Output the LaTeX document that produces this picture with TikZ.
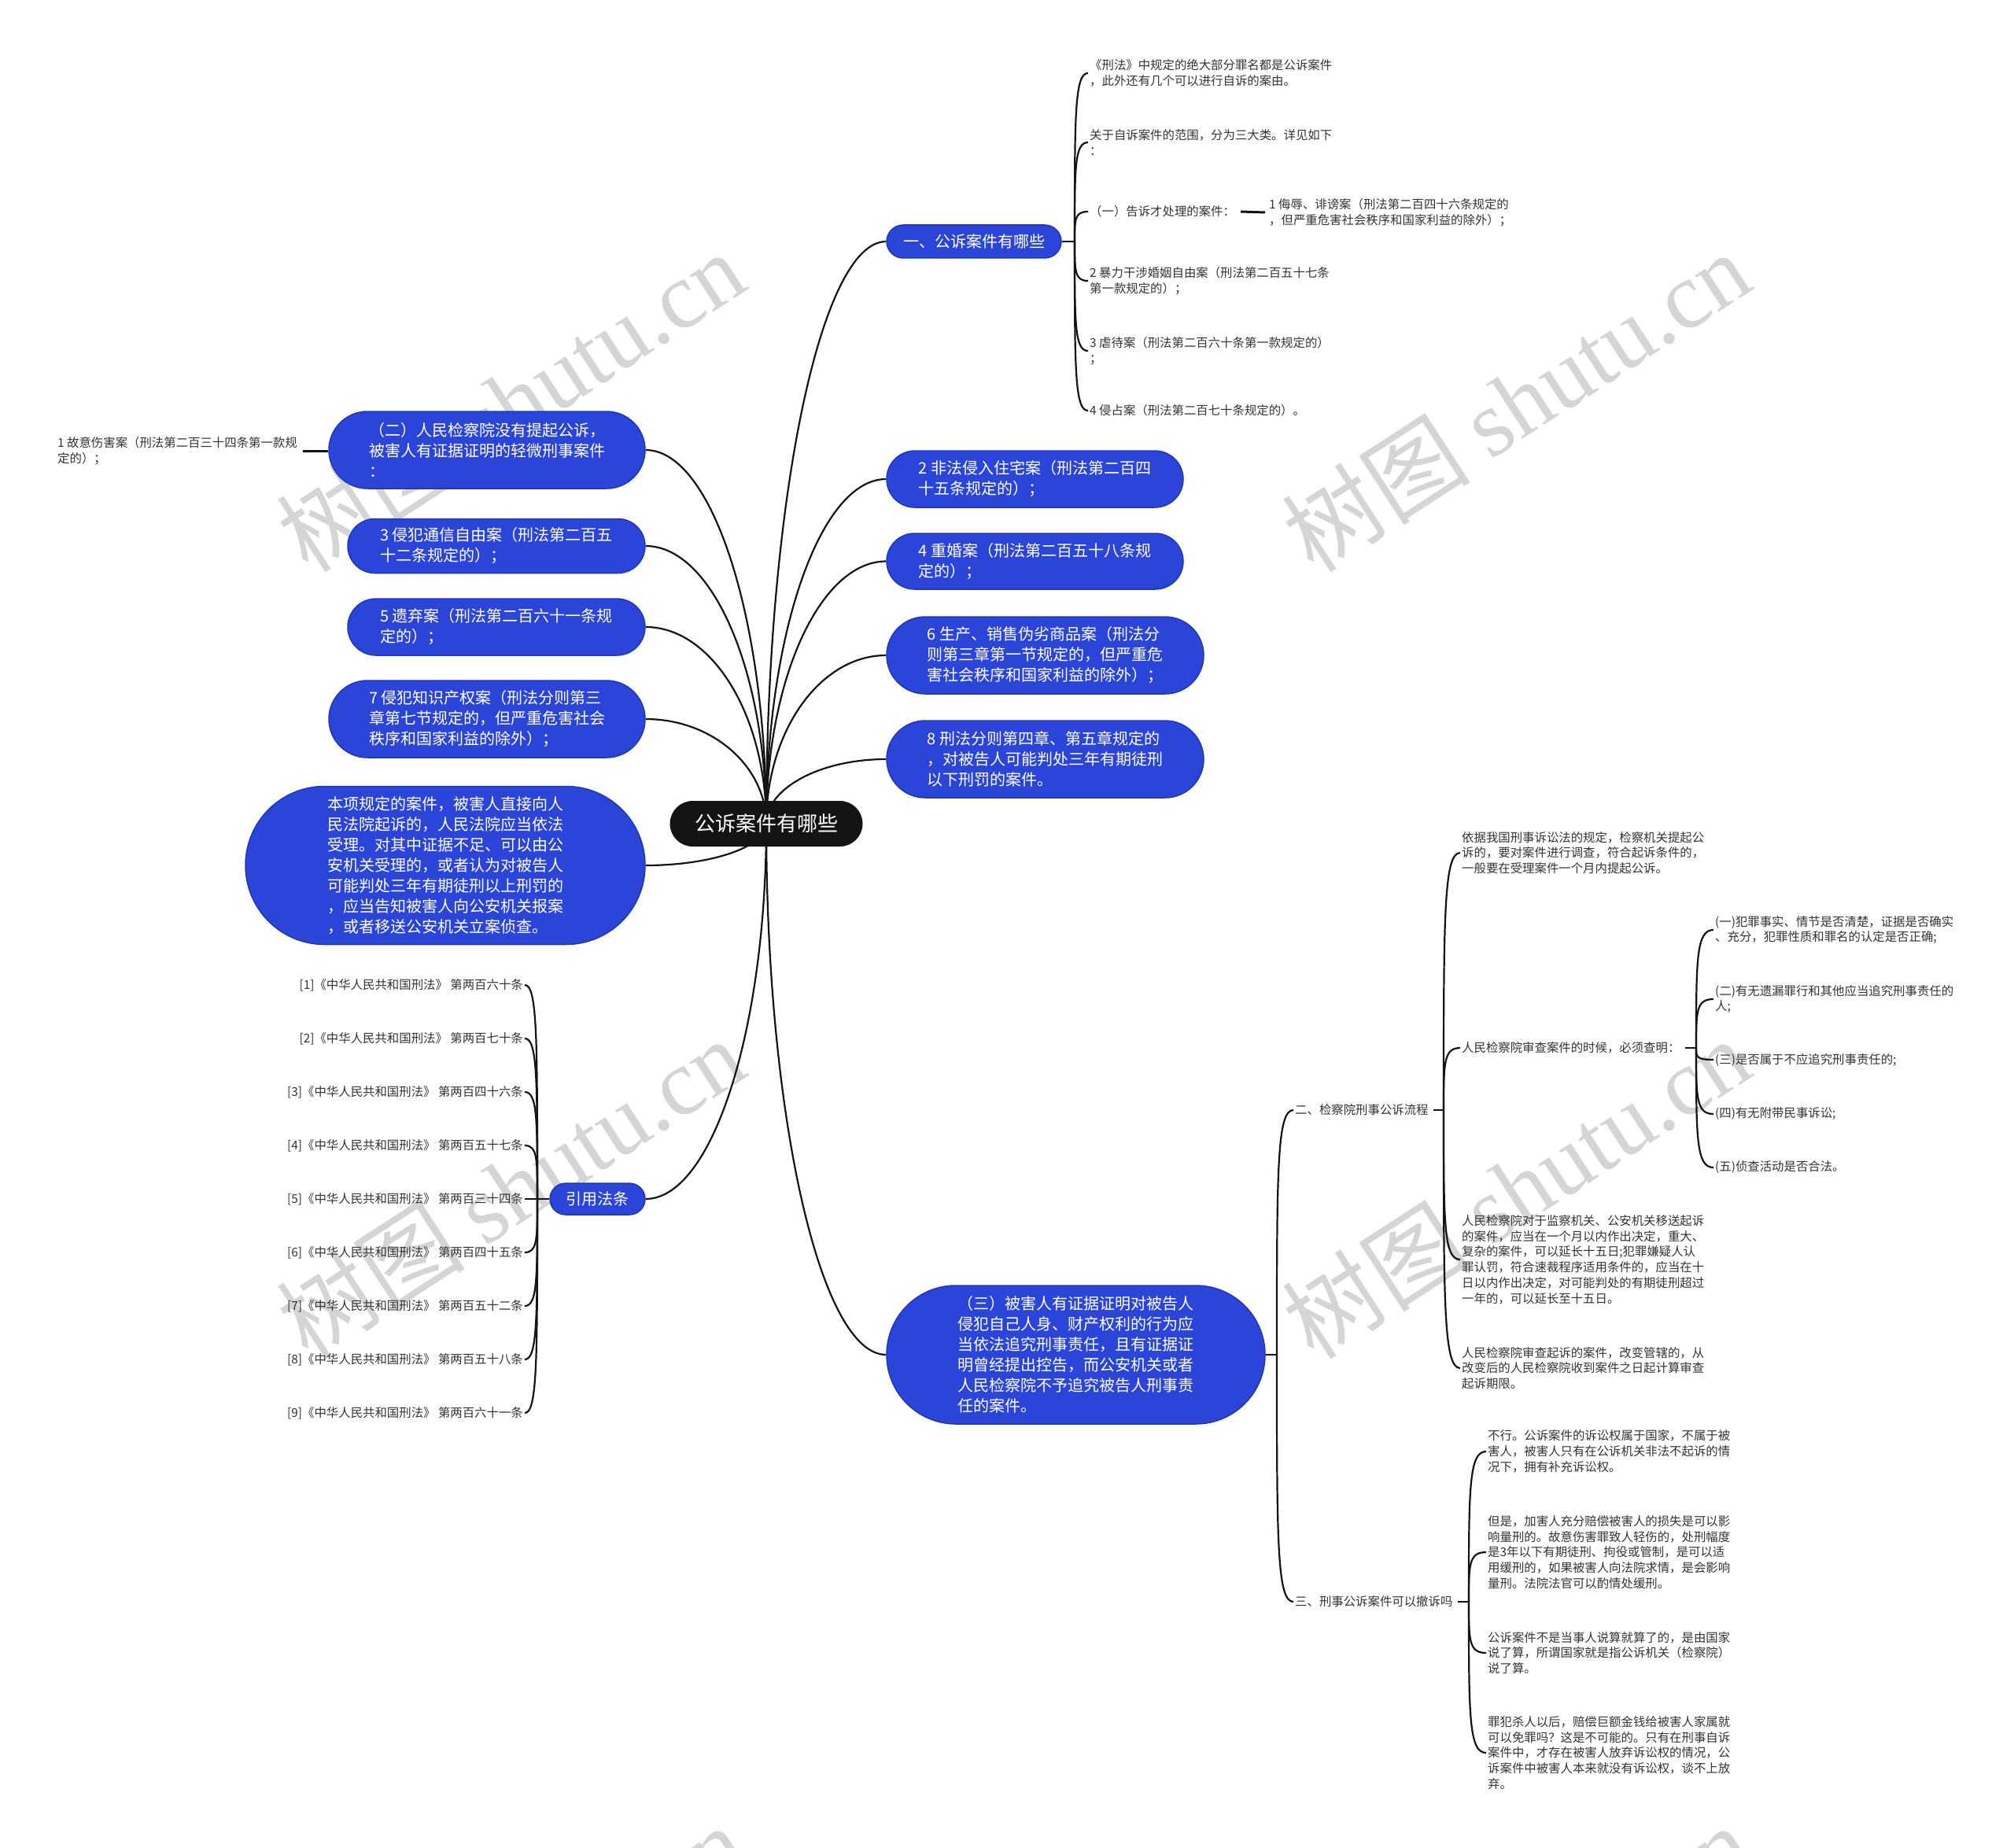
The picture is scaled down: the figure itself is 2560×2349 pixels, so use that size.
\documentclass[tikz,border=0pt]{standalone}
\usepackage{fontspec}
\setmainfont{Noto Sans CJK SC}
\newfontfamily\wmfont{Liberation Serif}
\usetikzlibrary{shapes.misc,calc}
\definecolor{nodeblue}{HTML}{2A45D8}
\definecolor{nodeedge}{HTML}{1F37B8}
\definecolor{wmgray}{HTML}{D5D5D5}
\definecolor{txt}{HTML}{333333}
\pgfdeclarelayer{paper}
\pgfdeclarelayer{wm}
\pgfdeclarelayer{bg}
\pgfsetlayers{paper,wm,bg,main}
\newcommand\hookto[2]{\draw[conn] (#1) .. controls ($(#1)!0.75!(#1|-#2)$) and (#1|-#2) .. (#2);}
\newcommand\trunk[1]{\draw[conn] (c0) .. controls ($(c0)!0.55!(c0|-#1)$) and ($(c0|-#1)!0.45!(#1)$) .. (#1);}
\begin{document}
\begin{tikzpicture}[x=1pt,y=-1pt,
  conn/.style={line width=2.2pt, draw=black!92},
  bluebox/.style={rounded rectangle, fill=nodeblue, draw=nodeedge, line width=1.5pt, text=white,
    font=\fontsize{20}{26}\selectfont, align=left, inner sep=0pt},
  rootbox/.style={rounded rectangle, fill=black!92, text=white, font=\fontsize{26}{30}\selectfont, inner sep=0pt},
  small/.style={font=\fontsize{15.4}{19.8}\selectfont, text=txt, align=left, inner sep=2pt},
  wmark/.style={rotate=33, text=wmgray, font=\fontsize{120}{120}\selectfont, inner sep=0pt}]
\useasboundingbox (0,0) rectangle (2560,2349);
\begin{pgfonlayer}{paper}
\fill[white] (0,0) rectangle (2560,2349);
\end{pgfonlayer}

% watermarks
\begin{pgfonlayer}{wm}
\clip (0,0) rectangle (2560,2349);
\node[wmark] (wm1) at (649,510) {树图 {\wmfont shutu.cn}};
\node[wmark] (wm2) at (1927,510) {树图 {\wmfont shutu.cn}};
\node[wmark] (wm3) at (649,1510) {树图 {\wmfont shutu.cn}};
\node[wmark] (wm4) at (1927,1510) {树图 {\wmfont shutu.cn}};
\node[wmark] (wm5) at (649,2510) {树图 {\wmfont shutu.cn}};
\node[wmark] (wm6) at (1927,2510) {树图 {\wmfont shutu.cn}};
\end{pgfonlayer}

% root
\node[rootbox, minimum width=245, minimum height=58] (c) at (974,1047) {公诉案件有哪些};
\coordinate (c0) at (974,1047);

% right blue nodes
\node[bluebox, minimum width=222, minimum height=42] (b1) at (1238,307) {一、公诉案件有哪些};
\node[bluebox, minimum width=377, minimum height=72] (b2) at (1315.5,609) {2 非法侵入住宅案（刑法第二百四\\十五条规定的）；};
\node[bluebox, minimum width=377, minimum height=71] (b4) at (1315.5,713.5) {4 重婚案（刑法第二百五十八条规\\定的）；};
\node[bluebox, minimum width=403, minimum height=98] (b6) at (1328.5,833) {6 生产、销售伪劣商品案（刑法分\\则第三章第一节规定的，但严重危\\害社会秩序和国家利益的除外）；};
\node[bluebox, minimum width=403, minimum height=98] (b8) at (1328.5,965) {8 刑法分则第四章、第五章规定的\\，对被告人可能判处三年有期徒刑\\以下刑罚的案件。};
\node[bluebox, minimum width=481, minimum height=176] (san) at (1367.5,1722) {（三）被害人有证据证明对被告人\\侵犯自己人身、财产权利的行为应\\当依法追究刑事责任，且有证据证\\明曾经提出控告，而公安机关或者\\人民检察院不予追究被告人刑事责\\任的案件。};

% left blue nodes
\node[bluebox, minimum width=402, minimum height=98] (l2) at (619,572) {（二）人民检察院没有提起公诉，\\被害人有证据证明的轻微刑事案件\\：};
\node[bluebox, minimum width=378, minimum height=69] (l3) at (631,694) {3 侵犯通信自由案（刑法第二百五\\十二条规定的）；};
\node[bluebox, minimum width=378, minimum height=72] (l5) at (631,797) {5 遗弃案（刑法第二百六十一条规\\定的）；};
\node[bluebox, minimum width=402, minimum height=98] (l7) at (619,914) {7 侵犯知识产权案（刑法分则第三\\章第七节规定的，但严重危害社会\\秩序和国家利益的除外）；};
\node[bluebox, minimum width=508, minimum height=201] (bx) at (566,1100) {本项规定的案件，被害人直接向人\\民法院起诉的，人民法院应当依法\\受理。对其中证据不足、可以由公\\安机关受理的，或者认为对被告人\\可能判处三年有期徒刑以上刑罚的\\，应当告知被害人向公安机关报案\\，或者移送公安机关立案侦查。};
\node[bluebox, minimum width=121, minimum height=40] (yin) at (759.5,1524) {引用法条};

% children of b1
\node[small, anchor=west] (a1) at (1383,93) {《刑法》中规定的绝大部分罪名都是公诉案件\\，此外还有几个可以进行自诉的案由。};
\node[small, anchor=west] (a2) at (1383,181) {关于自诉案件的范围，分为三大类。详见如下\\：};
\node[small, anchor=west] (a3) at (1383,269) {（一）告诉才处理的案件：};
\node[small, anchor=west] (a3x) at (1611,270) {1 侮辱、诽谤案（刑法第二百四十六条规定的\\，但严重危害社会秩序和国家利益的除外）；};
\node[small, anchor=west] (a4) at (1383,357) {2 暴力干涉婚姻自由案（刑法第二百五十七条\\第一款规定的）；};
\node[small, anchor=west] (a5) at (1383,446) {3 虐待案（刑法第二百六十条第一款规定的）\\；};
\node[small, anchor=west] (a6) at (1383,522) {4 侵占案（刑法第二百七十条规定的）。};

% child of l2
\node[small, anchor=west] (l2x) at (71,573) {1 故意伤害案（刑法第二百三十四条第一款规\\定的）；};

% children of yin
\node[small, anchor=east] (k1) at (667,1252) {[1]《中华人民共和国刑法》 第两百六十条};
\node[small, anchor=east] (k2) at (667,1320) {[2]《中华人民共和国刑法》 第两百七十条};
\node[small, anchor=east] (k3) at (667,1388) {[3]《中华人民共和国刑法》 第两百四十六条};
\node[small, anchor=east] (k4) at (667,1456) {[4]《中华人民共和国刑法》 第两百五十七条};
\node[small, anchor=east] (k5) at (667,1524) {[5]《中华人民共和国刑法》 第两百三十四条};
\node[small, anchor=east] (k6) at (667,1592) {[6]《中华人民共和国刑法》 第两百四十五条};
\node[small, anchor=east] (k7) at (667,1660) {[7]《中华人民共和国刑法》 第两百五十二条};
\node[small, anchor=east] (k8) at (667,1728) {[8]《中华人民共和国刑法》 第两百五十八条};
\node[small, anchor=east] (k9) at (667,1796) {[9]《中华人民共和国刑法》 第两百六十一条};

% children of san
\node[small, anchor=west] (t2) at (1644,1411) {二、检察院刑事公诉流程};
\node[small, anchor=west] (t3) at (1644,2036) {三、刑事公诉案件可以撤诉吗};

\node[small, anchor=west] (p1) at (1856,1084) {依据我国刑事诉讼法的规定，检察机关提起公\\诉的，要对案件进行调查，符合起诉条件的，\\一般要在受理案件一个月内提起公诉。};
\node[small, anchor=west] (p2) at (1856,1332) {人民检察院审查案件的时候，必须查明：};
\node[small, anchor=west] (p3) at (1856,1601) {人民检察院对于监察机关、公安机关移送起诉\\的案件，应当在一个月以内作出决定，重大、\\复杂的案件，可以延长十五日;犯罪嫌疑人认\\罪认罚，符合速裁程序适用条件的，应当在十\\日以内作出决定，对可能判处的有期徒刑超过\\一年的，可以延长至十五日。};
\node[small, anchor=west] (p4) at (1856,1739) {人民检察院审查起诉的案件，改变管辖的，从\\改变后的人民检察院收到案件之日起计算审查\\起诉期限。};

\node[small, anchor=west] (q1) at (2178,1182) {(一)犯罪事实、情节是否清楚，证据是否确实\\、充分，犯罪性质和罪名的认定是否正确;};
\node[small, anchor=west] (q2) at (2178,1270) {(二)有无遗漏罪行和其他应当追究刑事责任的\\人;};
\node[small, anchor=west] (q3) at (2178,1347) {(三)是否属于不应追究刑事责任的;};
\node[small, anchor=west] (q4) at (2178,1416) {(四)有无附带民事诉讼;};
\node[small, anchor=west] (q5) at (2178,1484) {(五)侦查活动是否合法。};

\node[small, anchor=west] (r1) at (1889,1845) {不行。公诉案件的诉讼权属于国家，不属于被\\害人，被害人只有在公诉机关非法不起诉的情\\况下，拥有补充诉讼权。};
\node[small, anchor=west] (r2) at (1889,1973) {但是，加害人充分赔偿被害人的损失是可以影\\响量刑的。故意伤害罪致人轻伤的，处刑幅度\\是3年以下有期徒刑、拘役或管制，是可以适\\用缓刑的，如果被害人向法院求情，是会影响\\量刑。法院法官可以酌情处缓刑。};
\node[small, anchor=west] (r3) at (1889,2101) {公诉案件不是当事人说算就算了的，是由国家\\说了算，所谓国家就是指公诉机关（检察院）\\说了算。};
\node[small, anchor=west] (r4) at (1889,2228) {罪犯杀人以后，赔偿巨额金钱给被害人家属就\\可以免罪吗？这是不可能的。只有在刑事自诉\\案件中，才存在被害人放弃诉讼权的情况，公\\诉案件中被害人本来就没有诉讼权，谈不上放\\弃。};

% spine coordinates
\coordinate (s1) at (1366,307);
\coordinate (sy) at (683,1524);
\coordinate (ss) at (1623,1722);
\coordinate (st2) at (1835,1411);
\coordinate (sp2) at (2156,1332);
\coordinate (st3) at (1867,2036);

\begin{pgfonlayer}{bg}
% trunk curves
\trunk{b1.west}
\trunk{b2.west}
\trunk{b4.west}
\trunk{b6.west}
\trunk{b8.west}
\trunk{l2.east}
\trunk{l3.east}
\trunk{l5.east}
\trunk{l7.east}
\trunk{bx.east}
\trunk{yin.east}
\trunk{san.west}
% branch of b1
\draw[conn] (b1.east) -- (s1);
\hookto{s1}{a1.west}
\hookto{s1}{a2.west}
\hookto{s1}{a3.west}
\hookto{s1}{a4.west}
\hookto{s1}{a5.west}
\hookto{s1}{a6.west}
\draw[conn, line width=3pt] ($(a3.east)+(5,0)$) -- ($(a3x.west)+(-3,0)$);
% l2 child
\draw[conn, line width=3pt] ($(l2x.east)+(5,0)$) -- (l2.west|-l2x.east);
% yin branch
\draw[conn] (yin.west) -- (sy);
\hookto{sy}{k1.east}
\hookto{sy}{k2.east}
\hookto{sy}{k3.east}
\hookto{sy}{k4.east}
\draw[conn] (sy) -- (k5.east);
\hookto{sy}{k6.east}
\hookto{sy}{k7.east}
\hookto{sy}{k8.east}
\hookto{sy}{k9.east}
% san branch
\draw[conn] (san.east) -- (ss);
\hookto{ss}{t2.west}
\hookto{ss}{t3.west}
\draw[conn] ($(t2.east)+(4,0)$) -- (st2);
\hookto{st2}{p1.west}
\hookto{st2}{p2.west}
\hookto{st2}{p3.west}
\hookto{st2}{p4.west}
\draw[conn] ($(p2.east)+(4,0)$) -- (sp2);
\hookto{sp2}{q1.west}
\hookto{sp2}{q2.west}
\hookto{sp2}{q3.west}
\hookto{sp2}{q4.west}
\hookto{sp2}{q5.west}
\draw[conn] ($(t3.east)+(4,0)$) -- (st3);
\hookto{st3}{r1.west}
\hookto{st3}{r2.west}
\hookto{st3}{r3.west}
\hookto{st3}{r4.west}
\end{pgfonlayer}
\end{tikzpicture}
\end{document}
